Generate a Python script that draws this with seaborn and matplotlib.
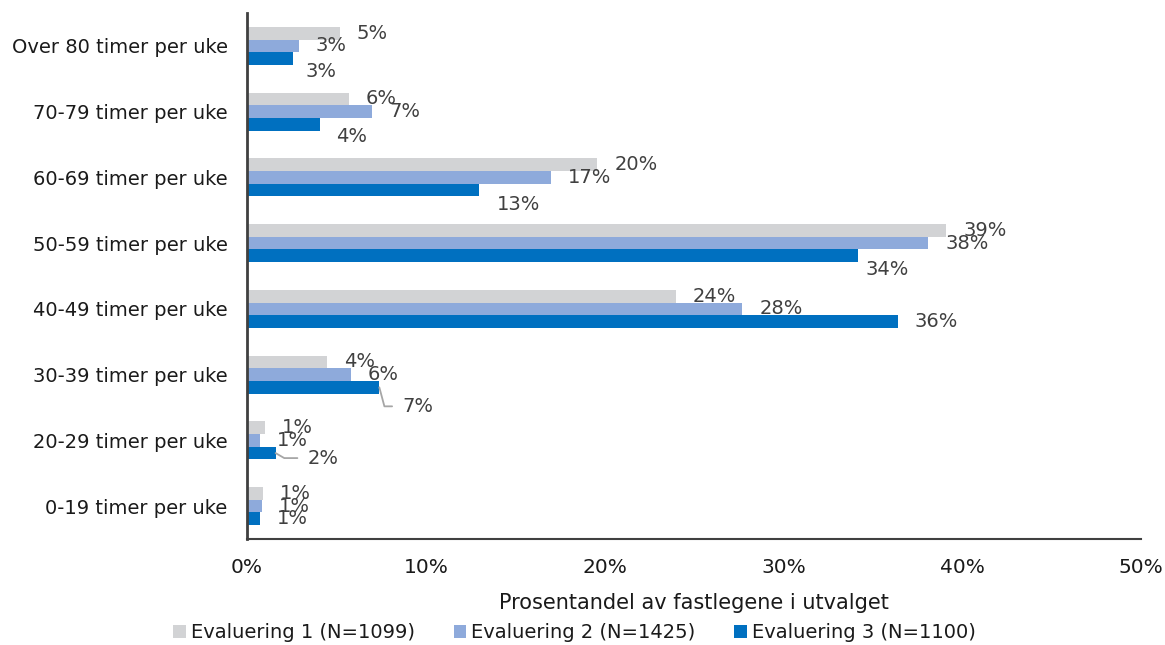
import matplotlib
matplotlib.use("Agg")
import matplotlib.pyplot as plt
import seaborn as sns
import pandas as pd
from matplotlib.ticker import FuncFormatter

categories = ["Over 80 timer per uke", "70-79 timer per uke", "60-69 timer per uke",
              "50-59 timer per uke", "40-49 timer per uke", "30-39 timer per uke",
              "20-29 timer per uke", "0-19 timer per uke"]
series = ["Evaluering 1 (N=1099)", "Evaluering 2 (N=1425)", "Evaluering 3 (N=1100)"]
eval1 = [5.2, 5.7, 19.6, 39.1, 24.0, 4.5, 1.0, 0.9]
eval2 = [2.9, 7.0, 17.0, 38.1, 27.7, 5.8, 0.7, 0.85]
eval3 = [2.6, 4.1, 13.0, 34.2, 36.4, 7.4, 1.6, 0.7]
xticks = [0, 10, 20, 30, 40, 50]

colors = ["#d2d3d5", "#8eaadb", "#0070c0"]

rows = []
for s, vals in zip(series, [eval1, eval2, eval3]):
    for c, v in zip(categories, vals):
        rows.append({"cat": c, "serie": s, "val": v})
df = pd.DataFrame(rows)

sns.set_theme(style="white")
plt.rcParams["font.family"] = ["DejaVu Sans"]

fig = plt.figure(figsize=(11.65, 6.45), dpi=100)
ax = fig.add_axes([247/1165, 1-539/645, (1141-247)/1165, (539-13)/645])

sns.barplot(data=df, y="cat", x="val", hue="serie", order=categories,
            hue_order=series, palette=colors, width=0.58, gap=0,
            orient="h", ax=ax, saturation=1, legend=True, errorbar=None,
            linewidth=0)

ax.set_xlim(0, 50)
ax.set_xticks(xticks)
ax.xaxis.set_major_formatter(FuncFormatter(lambda v, p: f"{v:.0f}%"))
ax.tick_params(axis="both", length=0, colors="#1a1a1a")
ax.tick_params(axis="x", pad=14, labelsize=14.5)
ax.tick_params(axis="y", pad=14, labelsize=14)
ax.set_ylabel("")
ax.set_xlabel("Prosentandel av fastlegene i utvalget", fontsize=15, color="#1a1a1a", labelpad=11)
for sp in ["top", "right"]:
    ax.spines[sp].set_visible(False)
ax.spines["left"].set_color("#404040")
ax.spines["left"].set_linewidth(2)
ax.spines["bottom"].set_color("#404040")
ax.spines["bottom"].set_linewidth(1.5)

# label offsets in pixels (dx from bar end, dy downward from bar centre)
px = 0.72
special = {(0, 2): (12, 13), (1, 2): (16, 12), (2, 2): (17, 14), (3, 2): (7, 14),
           (5, 2): (23, 19), (6, 2): (32, 5)}
leader = {(5, 2): -75, (6, 2): -30}
for si, cont in enumerate(ax.containers):
    for ci, bar in enumerate(cont):
        w = bar.get_width()
        yc = bar.get_y() + bar.get_height() / 2
        dx, dy = special.get((ci, si), (17, 0))
        kw = {}
        if (ci, si) in leader:
            kw["arrowprops"] = dict(arrowstyle="-", color="#a6a6a6", lw=1.3,
                                    connectionstyle=f"angle,angleA=0,angleB={leader[(ci, si)]},rad=0",
                                    relpos=(0, 0.5), shrinkA=5, shrinkB=0)
        ax.annotate(f"{w:.0f}%", xy=(w, yc), xytext=(dx * px, -dy * px),
                    textcoords="offset points", ha="left", va="center",
                    fontsize=14, color="#404040", **kw)

handles, labels = ax.get_legend_handles_labels()
ax.get_legend().remove()
fig.legend(handles, labels, loc="center", bbox_to_anchor=(574.5/1165, 1-633/645),
           ncol=3, frameon=False, fontsize=14, handlelength=0.65, handleheight=0.65,
           handletextpad=0.25, columnspacing=2.0, labelcolor="#1a1a1a")

fig.savefig("out.png", dpi=100)
